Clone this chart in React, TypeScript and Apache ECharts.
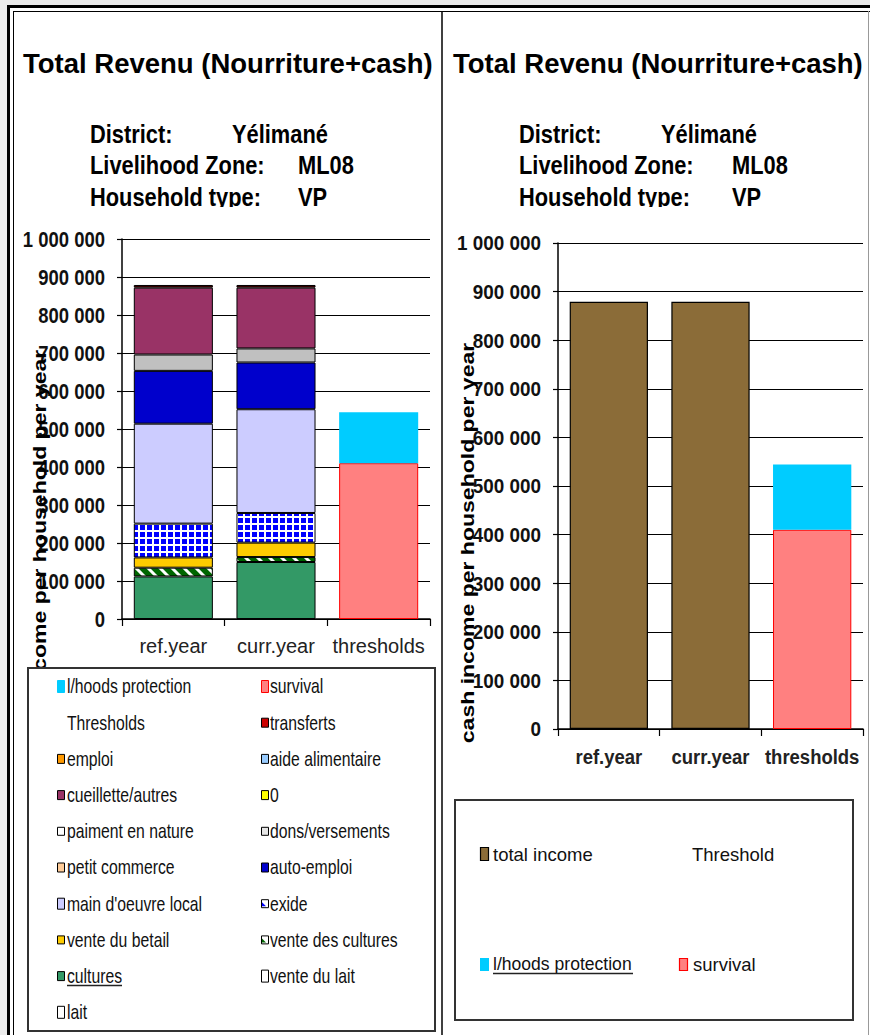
import React, { useEffect, useRef } from 'react';
import * as echarts from 'echarts';

// ---------------- data ----------------
const categories = ['ref.year', 'curr.year', 'thresholds'];
const yTickValues = [0, 100000, 200000, 300000, 400000, 500000, 600000, 700000, 800000, 900000, 1000000];
const yTickStep = 100000;
const yMax = 1000000;

// income sources, values for [ref.year, curr.year]
const cultures = [112000, 150000];
const venteDesCultures = [23000, 13000];
const venteDuBetail = [27000, 38000];
const exide = [89000, 78000];
const mainOeuvreLocal = [263000, 273000];
const autoEmploi = [139000, 123000];
const donsVersements = [43000, 37000];
const cueilletteAutres = [176000, 160000];
const transferts = [7000, 7000];
const lait = [0, 0];
const venteDuLait = [0, 0];
const petitCommerce = [0, 0];
const paimentEnNature = [0, 0];
const zeroSource = [0, 0];
const aideAlimentaire = [0, 0];
const emploi = [0, 0];

// thresholds
const survival = [410000];
const lhoodsProtection = [134000];

// right chart
const totalIncome = [879000, 879000];

const titleText = 'Total Revenu (Nourriture+cash)';
const infoLabels = ['District:', 'Livelihood Zone:', 'Household type:'];
const infoValues = ['Yélimané', 'ML08', 'VP'];
const yAxisTitle = 'cash income per household per year';

const legendLeftNames = [
  'l/hoods protection', 'survival', 'Thresholds', 'transferts', 'emploi', 'aide alimentaire',
  'cueillette/autres', '0', 'paiment en nature', 'dons/versements', 'petit commerce', 'auto-emploi',
  "main d'oeuvre local", 'exide', 'vente du betail', 'vente des cultures', 'cultures', 'vente du lait', 'lait',
];

// ---------------- styles ----------------
const svgUrl = (s: string) => 'data:image/svg+xml;charset=utf-8,' + encodeURIComponent(s);
const gridPattern: any = {
  image: svgUrl('<svg xmlns="http://www.w3.org/2000/svg" width="7" height="7"><rect width="7" height="7" fill="#0000FF"/><rect x="5" y="0" width="2" height="7" fill="#ffffff"/><rect x="0" y="5" width="7" height="2" fill="#ffffff"/></svg>'),
  repeat: 'repeat', imageWidth: 7, imageHeight: 7,
};
const hatchPattern: any = {
  image: svgUrl('<svg xmlns="http://www.w3.org/2000/svg" width="12" height="12"><rect width="12" height="12" fill="#006600"/><path d="M-3 -3 L15 15 M-3 9 L3 15 M9 -3 L15 3" stroke="#ffffff" stroke-width="3"/></svg>'),
  repeat: 'repeat', imageWidth: 12, imageHeight: 12,
};

const sourceColor: Record<string, any> = {
  'cultures': '#339966',
  'vente des cultures': hatchPattern,
  'vente du betail': '#FFCC00',
  'exide': gridPattern,
  "main d'oeuvre local": '#CCCCFF',
  'auto-emploi': '#0000CC',
  'dons/versements': '#C0C0C0',
  'cueillette/autres': '#993366',
  'transferts': '#550000',
  'lait': '#FFFFFF',
  'vente du lait': '#FFFFFF',
  'petit commerce': '#FFCC99',
  'paiment en nature': '#FFFFFF',
  '0': '#FFFF00',
  'aide alimentaire': '#99CCFF',
  'emploi': '#FF9900',
};

const incomeSources: [string, number[]][] = [
  ['cultures', cultures],
  ['vente des cultures', venteDesCultures],
  ['vente du betail', venteDuBetail],
  ['exide', exide],
  ["main d'oeuvre local", mainOeuvreLocal],
  ['auto-emploi', autoEmploi],
  ['dons/versements', donsVersements],
  ['cueillette/autres', cueilletteAutres],
  ['transferts', transferts],
  ['lait', lait],
  ['vente du lait', venteDuLait],
  ['petit commerce', petitCommerce],
  ['paiment en nature', paimentEnNature],
  ['0', zeroSource],
  ['aide alimentaire', aideAlimentaire],
  ['emploi', emploi],
];

const swatch: Record<string, { fill: string; stroke: string; h: number; corner?: string }> = {
  'l/hoods protection': { fill: '#00CCFF', stroke: '#00CCFF', h: 12 },
  'survival': { fill: '#FF8080', stroke: '#FF0000', h: 12 },
  'transferts': { fill: '#CC0000', stroke: '#000', h: 9 },
  'emploi': { fill: '#FF9900', stroke: '#000', h: 9 },
  'aide alimentaire': { fill: '#99CCFF', stroke: '#000', h: 9 },
  'cueillette/autres': { fill: '#993366', stroke: '#000', h: 9 },
  '0': { fill: '#FFFF00', stroke: '#000', h: 9 },
  'paiment en nature': { fill: '#FFFFFF', stroke: '#000', h: 8 },
  'dons/versements': { fill: '#E6E6E6', stroke: '#000', h: 8 },
  'petit commerce': { fill: '#FFCC99', stroke: '#000', h: 9 },
  'auto-emploi': { fill: '#0000CC', stroke: '#000', h: 9 },
  "main d'oeuvre local": { fill: '#CCCCFF', stroke: '#000', h: 11 },
  'exide': { fill: '#FFFFFF', stroke: '#000', h: 8, corner: '#0000FF' },
  'vente du betail': { fill: '#FFCC00', stroke: '#000', h: 8 },
  'vente des cultures': { fill: '#FFFFFF', stroke: '#000', h: 8, corner: '#006600' },
  'cultures': { fill: '#339966', stroke: '#000', h: 9 },
  'vente du lait': { fill: '#FFFFFF', stroke: '#000', h: 12 },
  'lait': { fill: '#FFFFFF', stroke: '#000', h: 12 },
};

const FONT = '"Liberation Sans", Arial, sans-serif';

const fmt = (v: number) => String(v).replace(/\B(?=(\d{3})+(?!\d))/g, ' ');

const txt = (text: string, x: number, y: number, font: string, o: any = {}) => ({
  type: 'text', x, y, z: o.z ?? 50, scaleX: o.sx ?? 1, scaleY: o.sy ?? 1, rotation: o.rot ?? 0,
  silent: true,
  style: {
    text, font, fill: o.fill ?? '#000',
    textAlign: o.align ?? 'left', align: o.align ?? 'left',
    textVerticalAlign: 'middle', verticalAlign: 'middle',
  },
});
const line = (x1: number, y1: number, x2: number, y2: number, w: number, color = '#000', z = 40) => ({
  type: 'line', z, silent: true, shape: { x1, y1, x2, y2 }, style: { stroke: color, lineWidth: w },
});
const rect = (x: number, y: number, w: number, h: number, fill: string, stroke: string | null, lw = 1, z = 40) => ({
  type: 'rect', z, silent: true, shape: { x, y, width: w, height: h },
  style: { fill, stroke: stroke ?? 'none', lineWidth: stroke ? lw : 0 },
});

function buildGraphic() {
  const els: any[] = [];
  // page frame
  els.push(rect(0, 0, 7, 1035, '#ECECEC', null, 0, 1));
  els.push(rect(0, 0, 870, 5, '#ECECEC', null, 0, 1));
  els.push(line(8.5, 5, 8.5, 1035, 3));
  els.push(line(7, 6.5, 870, 6.5, 3));
  els.push(line(13.5, 11, 13.5, 1035, 1));
  els.push(line(13, 11.5, 870, 11.5, 1));
  els.push(line(442, 11, 442, 1035, 1.5));
  els.push(line(868.5, 11, 868.5, 1035, 1, '#999'));

  // titles and info
  const panels = [
    { tx: 23, lx: 90, vx: [232, 298, 298], axX: 39, axY: 550 },
    { tx: 453, lx: 519, vx: [661, 732, 732], axX: 467, axY: 543 },
  ];
  const rowsY = [134, 165, 197];
  panels.forEach((p) => {
    els.push(txt(titleText, p.tx, 63, `bold 27.5px ${FONT}`));
    infoLabels.forEach((l, i) => {
      els.push(txt(l, p.lx, rowsY[i], `bold 26px ${FONT}`, { sx: 0.84 }));
      els.push(txt(infoValues[i], p.vx[i], rowsY[i], `bold 26px ${FONT}`, { sx: 0.84 }));
    });
    els.push(rect(p.lx - 10, 207, 300, 21, '#FFFFFF', null, 0, 55));
    els.push(txt(yAxisTitle, p.axX, p.axY, `bold 18px ${FONT}`, { rot: Math.PI / 2, sx: 1.28, align: 'center', z: 52 }));
  });

  // left legend
  els.push(rect(28, 668, 407, 363, '#FFFFFF', '#333', 2, 60));
  legendLeftNames.forEach((name, i) => {
    const col = i % 2;
    const row = Math.floor(i / 2);
    const cy = 686 + row * 36.2;
    const sx = col === 0 ? 57 : 261;
    const tx = col === 0 ? 67 : 270;
    const s = swatch[name];
    if (s) {
      els.push(rect(sx + 0.5, cy - s.h / 2 + 0.5, 7, s.h, s.fill, s.stroke, 1, 61));
      if (s.corner) {
        els.push({ type: 'polygon', z: 62, silent: true, shape: { points: [[sx + 1, cy + s.h / 2 - 1], [sx + 1, cy - 1], [sx + 5, cy + s.h / 2 - 1]] }, style: { fill: s.corner } });
      }
    }
    els.push(txt(name, tx, cy, `21px ${FONT}`, { sx: 0.75, z: 62, fill: '#111' }));
    if (name === 'cultures') {
      els.push(line(tx, cy + 10, tx + 55, cy + 10, 1.5, '#222', 62));
    }
  });

  // right legend
  els.push(rect(455, 800, 398, 220, '#FFFFFF', '#333', 2, 60));
  els.push(rect(480.5, 847.5, 8, 13, '#8B6C38', '#000', 1.2, 61));
  els.push(txt('total income', 493, 854, `18.5px ${FONT}`, { sx: 1.0, z: 62, fill: '#111' }));
  els.push(txt('Threshold', 692, 854, `18.5px ${FONT}`, { sx: 1.0, z: 62, fill: '#111' }));
  els.push(rect(480, 958, 9, 13, '#00CCFF', null, 0, 61));
  els.push(txt('l/hoods protection', 493, 964, `18.5px ${FONT}`, { sx: 0.95, z: 62, fill: '#111' }));
  els.push(line(493, 973.5, 633, 973.5, 1.5, '#222', 62));
  els.push(rect(679.5, 958.5, 8, 12, '#FF8080', '#FF0000', 1.2, 61));
  els.push(txt('survival', 693, 964, `18.5px ${FONT}`, { sx: 1.0, z: 62, fill: '#111' }));
  return els;
}

// axis tick labels, placed through the chart's own scales
function buildAxisLabels(chart: echarts.ECharts) {
  const els: any[] = [];
  const yLabelStyle = [
    { size: 22, sx: 0.84 },
    { size: 21, sx: 0.9 },
  ];
  [0, 1].forEach((i) => {
    const c0 = chart.convertToPixel({ xAxisIndex: i } as any, categories[0]) as number;
    const c1 = chart.convertToPixel({ xAxisIndex: i } as any, categories[1]) as number;
    const axisX = c0 - (c1 - c0) / 2;
    const y0 = chart.convertToPixel({ yAxisIndex: i } as any, 0) as number;
    yTickValues.forEach((v) => {
      const y = chart.convertToPixel({ yAxisIndex: i } as any, v) as number;
      els.push(txt(fmt(v), axisX - 17, y, `bold ${yLabelStyle[i].size}px ${FONT}`, { sx: yLabelStyle[i].sx, align: 'right', z: 45, fill: '#111' }));
    });
    if (i === 1) {
      categories.forEach((c) => {
        const x = chart.convertToPixel({ xAxisIndex: i } as any, c) as number;
        els.push(txt(c, x, y0 + 28, `bold 21px ${FONT}`, { sx: 0.88, align: 'center', z: 45, fill: '#222' }));
      });
    }
  });
  return els;
}

function buildOption(): any {
  const yAxisCommon = (gridIndex: number) => ({
    gridIndex, type: 'value', min: 0, max: yMax, interval: yTickStep,
    axisLine: { show: true, lineStyle: { color: '#000', width: 1.5 } },
    axisTick: { show: true, length: 5, lineStyle: { color: '#000', width: 1.2 } },
    splitLine: { show: true, lineStyle: { color: '#000', width: 1.2 } },
    axisLabel: { show: false },
  });
  const xAxisCommon = (gridIndex: number, showLabel: boolean) => ({
    gridIndex, type: 'category', data: categories,
    axisLine: { show: true, lineStyle: { color: '#000', width: 1.5 } },
    axisTick: { show: true, length: 7, lineStyle: { color: '#000', width: 1.2 } },
    axisLabel: showLabel
      ? { show: true, interval: 0, color: '#222', fontFamily: FONT, fontSize: 20, margin: 17 }
      : { show: false },
  });

  const series: any[] = [];
  incomeSources.forEach(([name, vals]) => {
    series.push({
      type: 'bar', name, xAxisIndex: 0, yAxisIndex: 0, stack: 'left', barCategoryGap: '23%',
      data: [vals[0] || '-', vals[1] || '-', '-'],
      itemStyle: { color: sourceColor[name], borderColor: '#000', borderWidth: 1 },
    });
  });
  series.push({
    type: 'bar', name: 'survival', xAxisIndex: 0, yAxisIndex: 0, stack: 'left', barCategoryGap: '23%',
    data: ['-', '-', survival[0]],
    itemStyle: { color: '#FF8080', borderColor: '#FF0000', borderWidth: 1 },
  });
  series.push({
    type: 'bar', name: 'l/hoods protection', xAxisIndex: 0, yAxisIndex: 0, stack: 'left', barCategoryGap: '23%',
    data: ['-', '-', lhoodsProtection[0]],
    itemStyle: { color: '#00CCFF', borderWidth: 0 },
  });
  series.push({
    type: 'bar', name: 'total income', xAxisIndex: 1, yAxisIndex: 1, stack: 'right', barCategoryGap: '23%',
    data: [totalIncome[0], totalIncome[1], '-'],
    itemStyle: { color: '#8B6C38', borderColor: '#000', borderWidth: 1.2 },
  });
  series.push({
    type: 'bar', name: 'survival ', xAxisIndex: 1, yAxisIndex: 1, stack: 'right', barCategoryGap: '23%',
    data: ['-', '-', survival[0]],
    itemStyle: { color: '#FF8080', borderColor: '#FF0000', borderWidth: 1 },
  });
  series.push({
    type: 'bar', name: 'l/hoods protection ', xAxisIndex: 1, yAxisIndex: 1, stack: 'right', barCategoryGap: '23%',
    data: ['-', '-', lhoodsProtection[0]],
    itemStyle: { color: '#00CCFF', borderWidth: 0 },
  });

  return {
    animation: false,
    backgroundColor: '#FFFFFF',
    grid: [
      { left: 122, top: 239, width: 308, height: 380 },
      { left: 558, top: 243, width: 305, height: 486 },
    ],
    xAxis: [xAxisCommon(0, true), xAxisCommon(1, false)],
    yAxis: [yAxisCommon(0), yAxisCommon(1)],
    series,
  };
}

export default function App() {
  const ref = useRef<HTMLDivElement>(null);
  useEffect(() => {
    if (!ref.current) return;
    const chart = echarts.init(ref.current, null, { renderer: 'svg' });
    chart.setOption(buildOption());
    chart.setOption({ graphic: { elements: [...buildGraphic(), ...buildAxisLabels(chart)] } });
    return () => chart.dispose();
  }, []);
  return (
    <div
      ref={ref}
      style={{ position: 'absolute', left: 0, top: 0, width: 870, height: 1035, background: '#fff' }}
    />
  );
}
